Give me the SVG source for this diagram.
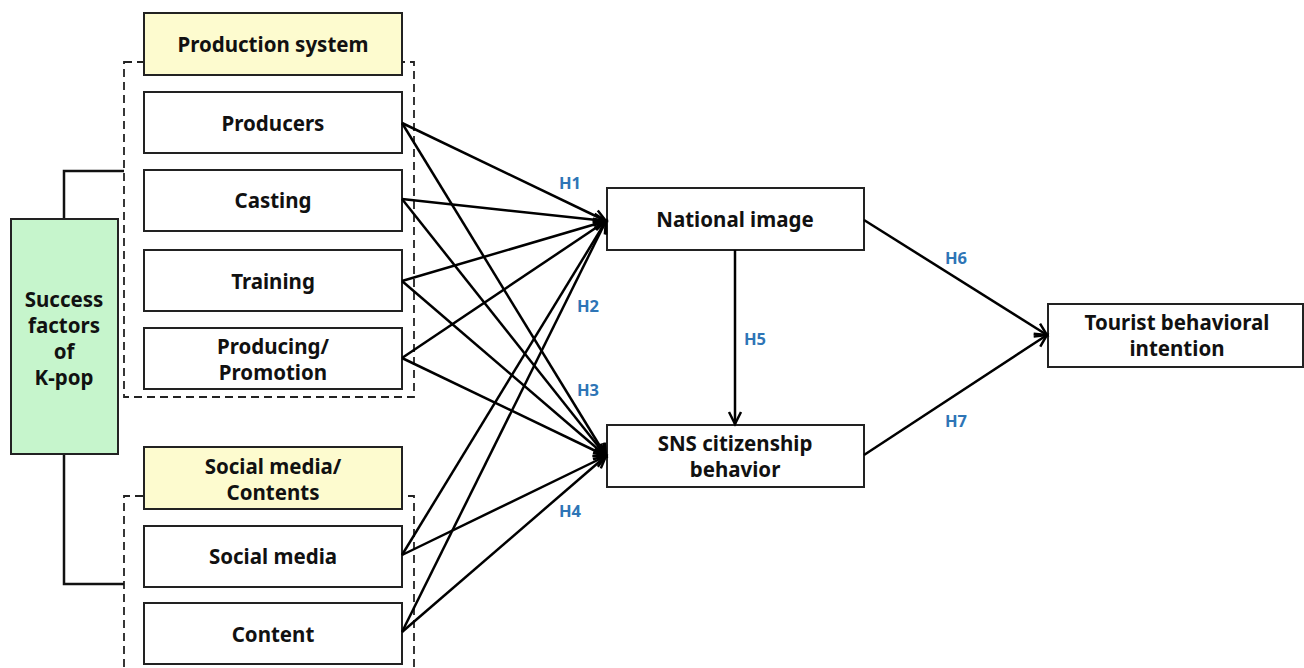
<svg xmlns="http://www.w3.org/2000/svg" width="1304" height="668" viewBox="0 0 1304 668">
  <defs>
    <marker id="arrow" markerUnits="userSpaceOnUse" markerWidth="20" markerHeight="20" viewBox="-16 -10 20 20" refX="0" refY="0" orient="auto">
      <path d="M-12,-6 L0,0 L-12,6" fill="none" stroke="#000" stroke-width="2.5" stroke-linejoin="miter"/>
    </marker>
  </defs>
  <style>
    .box { fill: #ffffff; stroke: #222; stroke-width: 2; }
    .head { fill: #fdfbcf; stroke: #222; stroke-width: 2; }
    .root { fill: #c6f5cc; stroke: #222; stroke-width: 2; }
    .group { fill: none; stroke: #222; stroke-width: 1.8; stroke-dasharray: 8 5; }
    .lbl { font-family: "Noto Sans", "Open Sans", sans-serif; font-weight: bold; font-size: 20.5px; fill: #111; text-anchor: middle; dominant-baseline: central; }
    .hyp { font-family: "Noto Sans", "Open Sans", sans-serif; font-weight: bold; font-size: 16.5px; fill: #2e75b6; text-anchor: middle; dominant-baseline: central; }
    .edge { fill: none; stroke: #000; stroke-width: 2.5; marker-end: url(#arrow); }
    .bracket { fill: none; stroke: #111; stroke-width: 2.5; }
  </style>
  <rect width="1304" height="668" fill="#ffffff"/>

  <!-- dashed group frames -->
  <rect class="group" x="124" y="62" width="290" height="335"/>
  <path class="group" d="M124,680 L124,496 L414,496 L414,680"/>

  <!-- bracket joining the two groups to the root factor box -->
  <path class="bracket" d="M64,219 L64,171 L124,171"/>
  <path class="bracket" d="M64,454 L64,584 L124,584"/>

  <g id="success-factors">
    <rect class="root" x="11" y="219" width="107" height="235"/>
    <text class="lbl" x="64" y="299">Success</text>
    <text class="lbl" x="64" y="325">factors</text>
    <text class="lbl" x="64" y="351">of</text>
    <text class="lbl" x="64" y="377">K-pop</text>
  </g>

  <g id="production-system">
    <rect class="head" x="144" y="13" width="258" height="62"/>
    <text class="lbl" x="273" y="44">Production system</text>
  </g>
  <g id="producers">
    <rect class="box" x="144" y="92" width="258" height="61"/>
    <text class="lbl" x="273" y="123">Producers</text>
  </g>
  <g id="casting">
    <rect class="box" x="144" y="170" width="258" height="61"/>
    <text class="lbl" x="273" y="200">Casting</text>
  </g>
  <g id="training">
    <rect class="box" x="144" y="250" width="258" height="61"/>
    <text class="lbl" x="273" y="281">Training</text>
  </g>
  <g id="producing-promotion">
    <rect class="box" x="144" y="328" width="258" height="61"/>
    <text class="lbl" x="273" y="346">Producing/</text>
    <text class="lbl" x="273" y="372">Promotion</text>
  </g>

  <g id="social-media-contents">
    <rect class="head" x="144" y="447" width="258" height="62"/>
    <text class="lbl" x="273" y="466">Social media/</text>
    <text class="lbl" x="273" y="492">Contents</text>
  </g>
  <g id="social-media">
    <rect class="box" x="144" y="526" width="258" height="61"/>
    <text class="lbl" x="273" y="556">Social media</text>
  </g>
  <g id="content">
    <rect class="box" x="144" y="603" width="258" height="61"/>
    <text class="lbl" x="273" y="634">Content</text>
  </g>

  <g id="national-image">
    <rect class="box" x="607" y="188" width="257" height="62"/>
    <text class="lbl" x="735" y="219">National image</text>
  </g>
  <g id="sns-citizenship">
    <rect class="box" x="607" y="425" width="257" height="62"/>
    <text class="lbl" x="735" y="443">SNS citizenship</text>
    <text class="lbl" x="735" y="469">behavior</text>
  </g>
  <g id="tourist-intention">
    <rect class="box" x="1048" y="304" width="255" height="63"/>
    <text class="lbl" x="1177" y="322">Tourist behavioral</text>
    <text class="lbl" x="1177" y="348">intention</text>
  </g>

  <g id="connectors">
    <!-- to National image -->
    <line class="edge" x1="402" y1="123" x2="606" y2="221"/>
    <line class="edge" x1="402" y1="199" x2="606" y2="221"/>
    <line class="edge" x1="402" y1="281" x2="606" y2="221"/>
    <line class="edge" x1="402" y1="358" x2="606" y2="221"/>
    <line class="edge" x1="402" y1="555" x2="606" y2="221"/>
    <line class="edge" x1="402" y1="632" x2="606" y2="221"/>
    <!-- to SNS citizenship behavior -->
    <line class="edge" x1="402" y1="123" x2="606" y2="456"/>
    <line class="edge" x1="402" y1="199" x2="606" y2="456"/>
    <line class="edge" x1="402" y1="281" x2="606" y2="456"/>
    <line class="edge" x1="402" y1="358" x2="606" y2="456"/>
    <line class="edge" x1="402" y1="555" x2="606" y2="456"/>
    <line class="edge" x1="402" y1="632" x2="606" y2="456"/>
    <!-- H5 -->
    <line class="edge" x1="735" y1="250" x2="735" y2="424"/>
    <!-- H6 / H7 -->
    <line class="edge" x1="864" y1="220" x2="1047" y2="335"/>
    <line class="edge" x1="864" y1="455" x2="1047" y2="335"/>

    <text class="hyp" x="570" y="182">H1</text>
    <text class="hyp" x="588" y="305">H2</text>
    <text class="hyp" x="588" y="389">H3</text>
    <text class="hyp" x="570" y="510">H4</text>
    <text class="hyp" x="755" y="338">H5</text>
    <text class="hyp" x="956" y="257">H6</text>
    <text class="hyp" x="956" y="420">H7</text>
  </g>
</svg>
